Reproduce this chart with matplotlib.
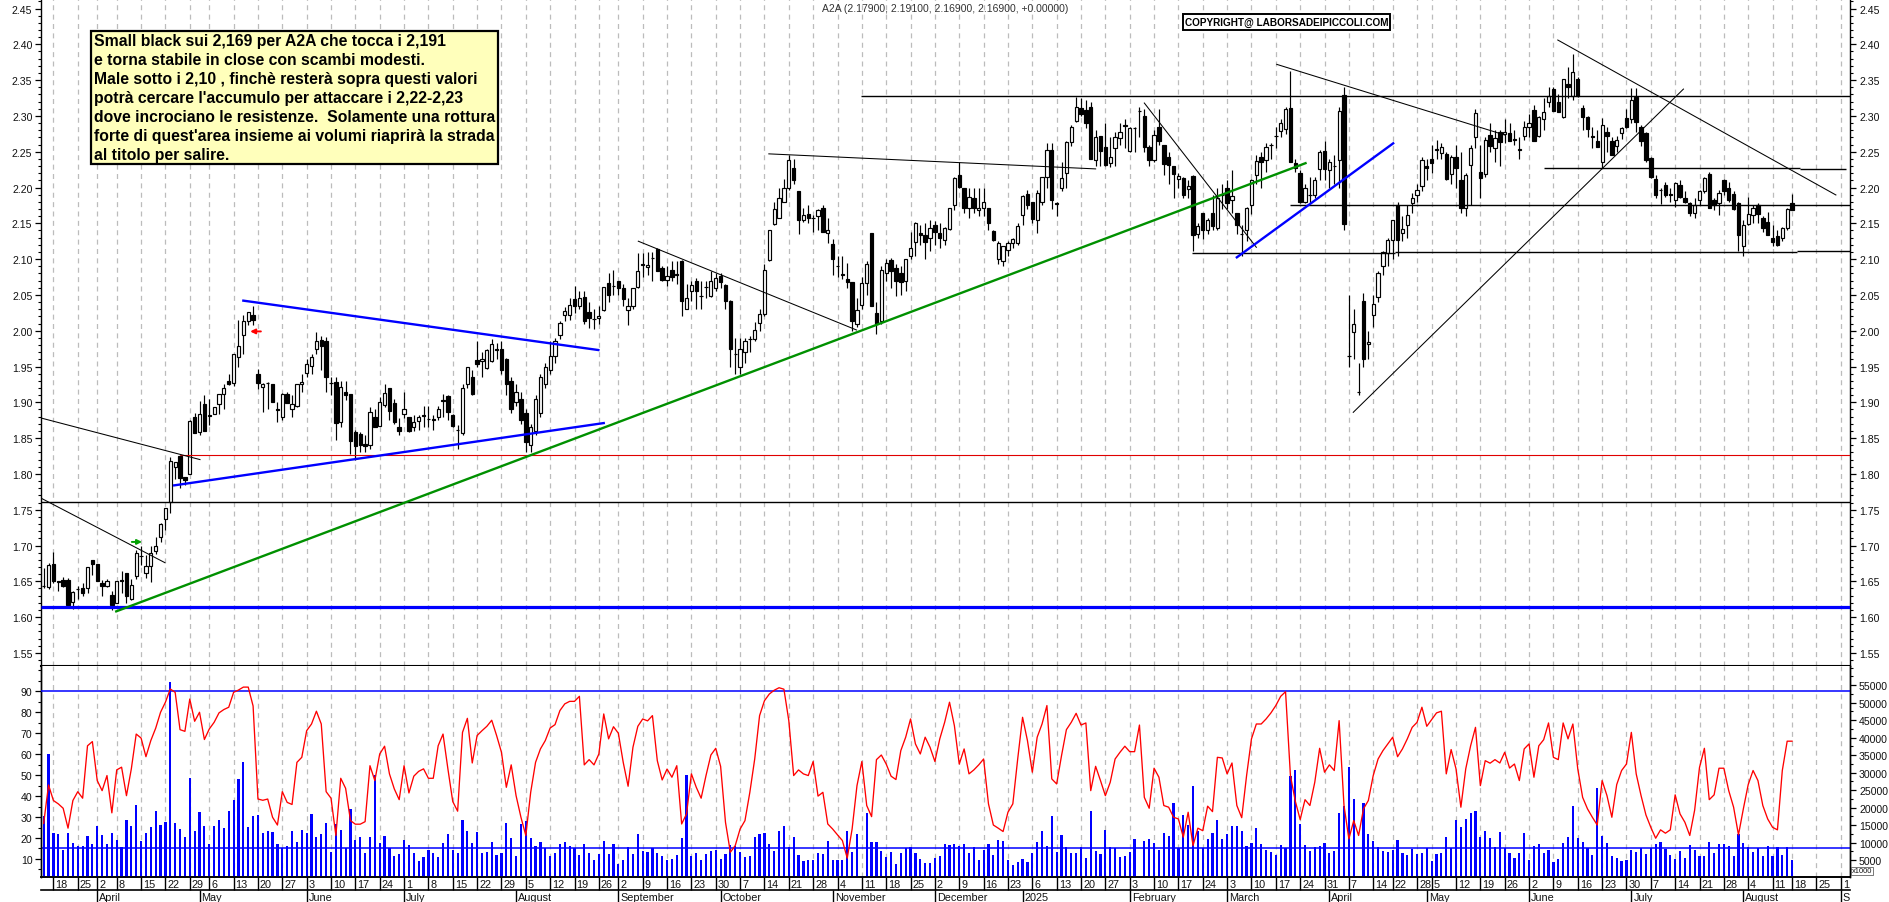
import numpy as np
import matplotlib
matplotlib.use("Agg")
import matplotlib.pyplot as plt
from matplotlib.patches import Rectangle
from matplotlib.ticker import MultipleLocator, FormatStrFormatter, NullFormatter
from matplotlib.transforms import ScaledTranslation

plt.rcParams['font.family'] = ['Liberation Sans', 'DejaVu Sans']

opens = [
 1.644,1.642,1.674,1.651,1.652,1.652,1.621,1.639,1.641,1.641,
 1.680,1.674,1.648,1.643,1.631,1.620,1.652,1.661,1.625,1.657,
 1.686,1.661,1.671,1.692,1.712,1.737,1.761,1.810,1.825,1.795,
 1.800,1.879,1.859,1.898,1.882,1.883,1.897,1.912,1.930,1.927,
 1.963,1.994,2.014,2.022,1.940,1.921,1.927,1.925,1.890,1.880,
 1.911,1.890,1.895,1.925,1.941,1.951,1.974,1.987,1.985,1.927,
 1.929,1.873,1.914,1.912,1.858,1.856,1.842,1.840,1.880,1.867,
 1.896,1.920,1.899,1.866,1.883,1.879,1.866,1.874,1.882,1.877,
 1.876,1.879,1.903,1.909,1.882,1.862,1.857,1.926,1.936,1.959,
 1.957,1.948,1.958,1.974,1.975,1.960,1.930,1.900,1.905,1.885,
 1.840,1.860,1.885,1.925,1.945,1.965,1.994,2.022,2.022,2.044,
 2.035,2.047,2.026,2.017,2.018,2.029,2.066,2.063,2.069,2.060,
 2.029,2.034,2.061,2.093,2.089,2.101,2.114,2.088,2.071,2.085,
 2.079,2.097,2.031,2.056,2.069,2.049,2.061,2.048,2.060,2.077,
 2.064,2.042,1.968,1.950,1.970,1.988,1.989,2.011,2.023,2.099,
 2.149,2.158,2.180,2.200,2.227,2.195,2.155,2.163,2.158,2.160,
 2.172,2.136,2.121,2.091,2.079,2.072,2.068,2.009,2.036,2.066,
 2.137,2.025,2.014,2.080,2.099,2.088,2.081,2.070,2.105,2.124,
 2.137,2.134,2.130,2.147,2.137,2.126,2.142,2.175,2.217,2.199,
 2.172,2.186,2.169,2.172,2.171,2.139,2.100,2.098,2.113,2.123,
 2.123,2.161,2.191,2.180,2.155,2.180,2.215,2.253,2.178,2.200,
 2.220,2.264,2.293,2.311,2.308,2.313,2.239,2.272,2.257,2.234,
 2.255,2.269,2.287,2.251,2.283,2.307,2.300,2.257,2.238,2.284,
 2.259,2.242,2.230,2.212,2.213,2.198,2.216,2.135,2.165,2.140,
 2.164,2.143,2.190,2.200,2.183,2.164,2.135,2.140,2.176,2.218,
 2.242,2.238,2.260,2.272,2.279,2.282,2.311,2.234,2.220,2.180,
 2.190,2.190,2.226,2.251,2.225,2.230,2.239,2.329,1.965,1.998,
 1.915,2.042,1.982,2.022,2.047,2.091,2.109,2.127,2.175,2.136,
 2.147,2.178,2.190,2.202,2.230,2.240,2.253,2.248,2.247,2.219,
 2.242,2.210,2.172,2.231,2.270,2.222,2.219,2.273,2.255,2.277,
 2.275,2.276,2.268,2.254,2.272,2.285,2.308,2.272,2.296,2.319,
 2.338,2.320,2.299,2.345,2.328,2.352,2.311,2.298,2.272,2.265,
 2.235,2.278,2.265,2.258,2.276,2.297,2.296,2.327,2.285,2.276,
 2.241,2.212,2.197,2.204,2.191,2.182,2.204,2.185,2.179,2.164,
 2.182,2.195,2.219,2.182,2.178,2.210,2.199,2.191,2.178,2.118,
 2.149,2.162,2.175,2.158,2.152,2.130,2.132,2.129,2.144,2.179,
]
highs = [
 1.668,1.676,1.691,1.651,1.656,1.655,1.636,1.644,1.647,1.670,
 1.680,1.674,1.652,1.653,1.637,1.651,1.664,1.662,1.653,1.694,
 1.700,1.687,1.700,1.712,1.731,1.753,1.824,1.816,1.827,1.795,
 1.875,1.885,1.902,1.910,1.905,1.893,1.912,1.925,1.940,1.967,
 2.015,2.022,2.026,2.035,1.947,1.927,1.928,1.925,1.900,1.913,
 1.915,1.910,1.926,1.940,1.960,1.968,1.998,1.992,1.991,1.935,
 1.935,1.930,1.930,1.912,1.862,1.858,1.855,1.893,1.890,1.907,
 1.926,1.920,1.905,1.878,1.915,1.879,1.882,1.882,1.895,1.895,
 1.882,1.895,1.912,1.910,1.883,1.868,1.925,1.950,1.945,1.985,
 1.970,1.975,1.988,1.983,1.985,1.962,1.935,1.925,1.915,1.890,
 1.870,1.910,1.940,1.955,1.985,1.990,2.013,2.033,2.045,2.062,
 2.055,2.055,2.040,2.030,2.035,2.061,2.080,2.085,2.068,2.065,
 2.045,2.060,2.108,2.108,2.110,2.110,2.116,2.090,2.090,2.098,
 2.098,2.099,2.065,2.070,2.073,2.070,2.070,2.083,2.080,2.080,
 2.065,2.043,1.990,1.990,1.990,1.992,2.012,2.030,2.093,2.141,
 2.180,2.200,2.212,2.246,2.240,2.195,2.172,2.175,2.162,2.170,
 2.176,2.157,2.128,2.105,2.105,2.095,2.068,2.045,2.075,2.097,
 2.137,2.040,2.090,2.100,2.102,2.093,2.090,2.100,2.138,2.152,
 2.148,2.150,2.155,2.153,2.150,2.145,2.172,2.215,2.235,2.200,
 2.200,2.200,2.200,2.200,2.172,2.140,2.125,2.119,2.125,2.130,
 2.150,2.190,2.197,2.180,2.197,2.215,2.262,2.262,2.180,2.235,
 2.265,2.288,2.327,2.325,2.322,2.320,2.280,2.272,2.290,2.270,
 2.278,2.290,2.295,2.285,2.285,2.312,2.310,2.260,2.280,2.310,
 2.260,2.250,2.230,2.220,2.215,2.210,2.217,2.150,2.165,2.157,
 2.190,2.200,2.205,2.210,2.225,2.165,2.148,2.173,2.212,2.245,
 2.250,2.262,2.262,2.285,2.295,2.312,2.363,2.240,2.224,2.205,
 2.215,2.215,2.252,2.265,2.240,2.245,2.312,2.340,2.050,2.030,
 1.955,2.053,2.000,2.050,2.083,2.112,2.130,2.155,2.180,2.160,
 2.175,2.192,2.205,2.242,2.240,2.260,2.267,2.262,2.250,2.245,
 2.260,2.250,2.220,2.260,2.310,2.260,2.270,2.290,2.280,2.280,
 2.295,2.290,2.280,2.270,2.293,2.303,2.315,2.300,2.325,2.340,
 2.340,2.330,2.352,2.368,2.386,2.355,2.315,2.300,2.285,2.280,
 2.297,2.285,2.270,2.272,2.285,2.310,2.339,2.339,2.287,2.277,
 2.242,2.218,2.200,2.208,2.200,2.208,2.210,2.195,2.180,2.185,
 2.197,2.215,2.221,2.185,2.197,2.212,2.208,2.195,2.180,2.155,
 2.187,2.175,2.178,2.160,2.166,2.147,2.140,2.145,2.172,2.191,
]
lows = [
 1.641,1.639,1.648,1.636,1.642,1.615,1.611,1.625,1.629,1.634,
 1.659,1.650,1.629,1.642,1.610,1.619,1.634,1.620,1.624,1.653,
 1.673,1.655,1.649,1.688,1.705,1.722,1.745,1.793,1.780,1.785,
 1.800,1.857,1.855,1.860,1.868,1.883,1.883,1.890,1.924,1.923,
 1.950,1.968,2.008,2.008,1.918,1.887,1.890,1.901,1.873,1.875,
 1.899,1.880,1.893,1.915,1.935,1.940,1.968,1.945,1.915,1.910,
 1.848,1.865,1.903,1.828,1.820,1.830,1.830,1.835,1.865,1.867,
 1.893,1.875,1.870,1.855,1.878,1.858,1.860,1.862,1.865,1.865,
 1.862,1.875,1.880,1.875,1.865,1.835,1.855,1.920,1.910,1.950,
 1.936,1.946,1.956,1.960,1.940,1.910,1.885,1.895,1.870,1.830,
 1.830,1.855,1.880,1.920,1.940,1.955,1.988,2.014,2.015,2.025,
 2.030,2.010,2.004,2.003,2.010,2.028,2.040,2.050,2.050,2.035,
 2.008,2.030,2.060,2.075,2.078,2.070,2.083,2.070,2.063,2.070,
 2.065,2.020,2.030,2.042,2.030,2.030,2.045,2.047,2.055,2.060,
 2.030,1.950,1.940,1.940,1.955,1.970,1.985,2.000,2.020,2.097,
 2.148,2.157,2.180,2.196,2.205,2.135,2.152,2.150,2.138,2.140,
 2.138,2.123,2.078,2.075,2.072,2.060,2.000,2.005,2.030,2.050,
 2.034,1.995,2.010,2.070,2.060,2.048,2.050,2.055,2.100,2.105,
 2.120,2.100,2.112,2.120,2.115,2.120,2.140,2.169,2.200,2.165,
 2.157,2.165,2.160,2.160,2.140,2.125,2.093,2.091,2.105,2.115,
 2.120,2.147,2.170,2.150,2.137,2.175,2.200,2.170,2.160,2.195,
 2.200,2.258,2.292,2.300,2.283,2.240,2.230,2.230,2.230,2.228,
 2.230,2.260,2.255,2.250,2.250,2.270,2.250,2.230,2.235,2.260,
 2.218,2.205,2.185,2.200,2.185,2.185,2.112,2.130,2.128,2.135,
 2.140,2.140,2.170,2.170,2.165,2.135,2.105,2.125,2.163,2.205,
 2.200,2.222,2.240,2.255,2.270,2.275,2.235,2.222,2.178,2.178,
 2.178,2.185,2.210,2.210,2.200,2.205,2.200,2.140,1.950,1.960,
 1.910,1.950,1.960,2.005,2.040,2.078,2.090,2.100,2.105,2.125,
 2.130,2.165,2.180,2.195,2.210,2.220,2.240,2.240,2.210,2.205,
 2.200,2.165,2.160,2.175,2.255,2.185,2.215,2.250,2.235,2.230,
 2.262,2.265,2.260,2.240,2.267,2.270,2.265,2.270,2.280,2.312,
 2.307,2.305,2.297,2.325,2.322,2.327,2.280,2.270,2.255,2.257,
 2.227,2.250,2.245,2.250,2.268,2.283,2.290,2.278,2.258,2.236,
 2.213,2.185,2.177,2.187,2.180,2.173,2.186,2.178,2.160,2.157,
 2.175,2.192,2.172,2.168,2.162,2.190,2.180,2.168,2.112,2.104,
 2.147,2.150,2.150,2.138,2.133,2.118,2.118,2.125,2.141,2.169,
]
closes = [
 1.643,1.673,1.651,1.649,1.643,1.617,1.635,1.639,1.633,1.670,
 1.674,1.650,1.643,1.650,1.617,1.650,1.651,1.629,1.645,1.689,
 1.686,1.672,1.690,1.700,1.730,1.753,1.818,1.816,1.794,1.791,
 1.874,1.857,1.883,1.860,1.881,1.893,1.912,1.920,1.926,1.967,
 1.978,2.013,2.026,2.015,1.927,1.926,1.927,1.901,1.889,1.911,
 1.899,1.897,1.925,1.929,1.954,1.963,1.985,1.979,1.936,1.927,
 1.871,1.922,1.910,1.846,1.839,1.840,1.839,1.887,1.866,1.901,
 1.913,1.888,1.873,1.860,1.890,1.860,1.873,1.879,1.881,1.876,
 1.875,1.890,1.902,1.887,1.867,1.861,1.920,1.949,1.912,1.953,
 1.961,1.973,1.982,1.973,1.945,1.925,1.890,1.915,1.875,1.845,
 1.865,1.905,1.935,1.950,1.965,1.985,2.011,2.027,2.036,2.035,
 2.046,2.014,2.018,2.017,2.021,2.061,2.050,2.062,2.060,2.044,
 2.034,2.060,2.084,2.092,2.092,2.101,2.083,2.071,2.077,2.075,
 2.078,2.042,2.046,2.064,2.056,2.048,2.061,2.070,2.074,2.068,
 2.042,1.975,1.967,1.975,1.985,1.988,2.001,2.023,2.085,2.141,
 2.170,2.186,2.200,2.238,2.211,2.154,2.162,2.157,2.158,2.168,
 2.138,2.141,2.100,2.090,2.078,2.068,2.014,2.029,2.066,2.093,
 2.034,2.009,2.085,2.094,2.084,2.070,2.068,2.100,2.116,2.150,
 2.133,2.124,2.144,2.138,2.130,2.144,2.171,2.213,2.201,2.172,
 2.187,2.171,2.172,2.180,2.151,2.126,2.123,2.119,2.123,2.128,
 2.146,2.188,2.175,2.156,2.193,2.215,2.253,2.182,2.177,2.213,
 2.263,2.285,2.312,2.302,2.290,2.240,2.271,2.251,2.232,2.243,
 2.270,2.277,2.286,2.283,2.283,2.307,2.256,2.239,2.274,2.265,
 2.233,2.231,2.219,2.216,2.190,2.202,2.133,2.146,2.140,2.155,
 2.146,2.186,2.190,2.179,2.188,2.147,2.135,2.171,2.211,2.237,
 2.236,2.257,2.260,2.272,2.290,2.310,2.235,2.227,2.180,2.200,
 2.189,2.211,2.250,2.226,2.235,2.230,2.307,2.149,1.965,2.009,
 1.915,1.960,1.984,2.037,2.080,2.110,2.127,2.154,2.126,2.142,
 2.162,2.186,2.197,2.239,2.227,2.234,2.254,2.257,2.212,2.243,
 2.227,2.172,2.218,2.255,2.304,2.213,2.266,2.258,2.269,2.264,
 2.278,2.265,2.267,2.253,2.284,2.290,2.265,2.298,2.306,2.328,
 2.307,2.306,2.351,2.341,2.361,2.328,2.299,2.282,2.270,2.257,
 2.288,2.272,2.245,2.267,2.283,2.285,2.322,2.291,2.265,2.239,
 2.215,2.190,2.196,2.189,2.190,2.206,2.187,2.180,2.164,2.175,
 2.195,2.213,2.172,2.176,2.193,2.195,2.182,2.170,2.133,2.147,
 2.163,2.172,2.163,2.144,2.133,2.124,2.120,2.143,2.170,2.169,
]
rsi = [
 27,45.3,37.9,36.3,34.2,24.7,37.9,42.1,39,64,66,47.4,42.6,49.8,32,52.5,53.8,40.2,53,69.6,
 67.7,58.8,66.5,72.4,80,84.8,91.1,89.5,71.7,70.9,86.3,75.7,80,67,72,75.2,79.7,81.3,82.4,89.5,
 90.6,92,92,83,38.6,38,38.6,29.9,26.2,42.1,37,36,56.1,58.5,71.2,74.4,80.5,74.4,42.1,39,
 21.2,48.5,43.7,28.3,26.6,26.6,27.8,54.5,47.4,60.1,63.8,50.6,43.4,38.3,54.5,41.5,49.5,51.8,53,48.5,
 48.5,64,69.6,53,37.4,32.8,70.4,77.1,55.8,68.9,71.2,73.3,76.2,68.9,60.9,44.2,54.9,40.2,29.9,21.2,
 41.8,56.1,62.5,66.5,72.5,74.1,80.8,84,85.2,85.2,87.6,54.9,57.4,54.9,60.1,79.2,67.3,73.1,70,56.1,
 44.7,63.3,73.3,76.8,75.9,78.4,56.9,47.7,52.9,49,54.5,26.7,31.5,50.6,44.2,39,49.8,59.6,62.8,54.2,
 27.5,13.2,16.4,24.3,28.3,41.8,57.7,78.4,85.5,88.7,90.5,91.7,91,76,49.8,52.5,50.6,49.8,56.5,40,
 41.8,26.7,24.3,21.5,18.8,10.4,24.3,45,56.5,35.5,30.2,57.4,59.6,55.3,49.5,47.9,61.7,68.1,76.8,64.9,
 60.1,68.1,63.3,56.5,67.3,75.2,84.8,73.6,55.3,62.5,50.6,52.5,54.9,57.7,36.3,26.2,24.7,23.1,32.3,36.3,
 57.7,77.6,66.5,51.4,68.1,74.4,83.2,48.2,45.8,59.3,71.7,75.2,79.5,73.9,74.9,42.6,54.2,47.4,40.2,46.6,
 57.7,60.9,63.8,61.2,61.2,73.9,39.4,34.2,53.3,49,35.5,34.7,29.9,29.1,20.4,32.3,16.4,24.7,23.5,35.2,
 32.6,58.5,58.2,50.6,55.8,35.5,29.7,49.8,67.3,74.4,74.4,76.8,79.7,83.2,87.6,89.8,49.8,37.6,28.8,38.3,
 35.5,46.6,62.8,51.4,54.9,52.2,76,35.5,19.6,28.3,21.2,33.9,37.9,49.8,57.7,61.7,64.9,68.1,58.8,62.5,
 67.3,72.8,75.2,82.4,73.3,76.5,79.7,80.5,50.6,62.2,53,34.7,53,64,72.8,45,56.9,55.7,57.4,55.8,
 60.9,53.4,55.3,47.4,62.5,64.9,49,64,66.9,74.9,58.5,57.4,74.9,67.3,74.4,53,39.4,33.9,29.9,26.2,
 47.4,40.2,29.9,45.5,52.2,55.3,70.4,50.6,40.2,31,25.1,19.9,23.9,22.3,23.9,40.6,31.5,27.5,21.2,33.3,
 53.7,62.8,38.3,40.6,53.3,53.3,42.6,34.7,21.5,33.9,45.5,52.2,47.4,35.5,29.1,25.1,23.9,52.2,66.2,66.2,
]
volume_k = [
 17.6,35.2,12.7,12.5,7.9,12.7,10,8.9,8.9,11.8,
 9.7,14.7,12.1,9.5,12.6,10.7,8.6,16.4,14.7,20.7,
 10.5,12.6,14.3,19,14.9,16,55.9,15.5,13.8,11.5,
 28.4,13.3,18.6,14.7,9.7,14.6,16.3,14.1,18.9,22.1,
 28.1,33,14.5,17.5,17.8,12.8,13.2,12.9,9.7,8.4,
 9.1,13.2,10.1,13.5,12.6,18.1,11.6,12.3,15.7,7.4,
 15.2,13.7,8.4,19.7,10.8,11.5,7,11.5,29.2,9.9,
 11.8,8.4,6.1,6.7,10.6,9.2,7,4.7,6,7.8,
 7.1,6,9.9,12.4,7.8,7.1,16.4,13.4,9.8,13,
 7.1,7.3,10.1,6.5,7.1,15.6,11.2,6.2,15.2,16.1,
 11.2,9,10.1,8.3,6.2,7.1,9.5,10.1,9,8.3,
 6.4,9.5,7.1,5,6.7,10.4,6.6,9.5,4,5,
 8.6,6.7,12.3,7.6,7.4,
 8.3,6.9,6.1,5,5.3,6.4,11.4,29.4,6.2,7.1,
 5,6.7,7.5,7.8,5.2,6.7,9.3,8.9,7.4,5.9,
 6.1,11.6,12.3,12.6,9.5,7.5,13.2,14.7,8.7,11.5,
 6.4,4.6,5.1,4.9,7.1,6.6,10.4,4.9,5,5,
 13.2,7.4,12.4,0.4,18.4,10.1,10.1,7.7,6,7.4,
 4,7.1,8.5,8.7,7,5.2,4.1,4.1,5.7,6.1,
 9.5,9.2,9.7,9,9.5,7.1,8.6,5,7.8,9.5,
 6.4,10.7,10.4,4.9,3.7,4.5,5.2,4.3,6.9,10.1,
 13.4,9,17.6,7.3,12.1,8.7,7,7.1,8.6,5.7,
 18.9,7.5,6.7,13.5,8.6,8.4,5.9,6.1,7.3,11.1,
 0.4,10.4,10.9,10,7.9,12.6,11.8,21.4,8.4,17.8,
 15,26.1,13.3,8.4,10.9,12.6,16.4,11,12.5,14.6,
 14.7,13.2,9,9.8,14.1,9.5,8,
 7.4,6.4,9.4,8.4,28.9,30.7,15.2,9.4,7.5,8.7,
 9,9.9,7.1,7.6,18.4,20.4,31.7,22.4,0.4,21.2,
 12.3,10.4,8.7,7.5,7.4,7.8,10.7,7.1,6.4,8.1,
 6.6,7,8.3,4.8,6.7,7.1,11.5,8.3,16.4,14.4,
 16.7,18.4,19,11.7,13.4,11.2,8.6,12.9,8.3,7,
 5.5,7,12.7,5,9,9.5,6.9,8,4.5,5.4,
 9.9,11.5,20.4,11.2,10.1,8.3,6.4,25.5,11.8,9.8,
 6.1,5.6,4.7,5,7.9,7.4,8.3,6.7,8.4,9.7,
 10.1,8.1,6.4,5.4,7.5,5.7,9.4,7.8,6.2,6.1,
 10.1,7,9.7,9.5,9,6.2,12.4,10,8.7,7.4,
 8.3,6.2,9,6.1,8.6,6.4,8.6,5,
]
week_pos = [3,8,12,16,21,26,31,35,40,45,50,55,60,65,70,75,80,85,90,95,100,105,110,115,119,124,129,134,139,
            144,149,154,159,164,169,174,179,184,189,194,199,204,209,214,219,224,229,234,239,244,249,254,259,264,
            269,274,278,283,286,291,296,301,306,311,316,321,326,331,336,341,346,351,356,360,365,370]
week_labels = ['18','25','2','8','15','22','29','6','13','20','27','3','10','17','24','1','8','15','22','29','5','12','19','26',
               '2','9','16','23','30','7','14','21','28','4','11','18','25','2','9','16','23','6','13','20','27','3','10','17','24',
               '3','10','17','24','31','7','14','22','28','5','12','19','26','2','9','16','23','30','7','14','21','28','4','11','18','25','1']
month_pos = [12,33,55,75,98,119,140,163,184,202,224,244,265,285,306,327,350,370]
month_labels = ['April','May','June','July','August','September','October','November','December','2025',
                'February','March','April','May','June','July','August','S']
price_ticks = [1.55,1.60,1.65,1.70,1.75,1.80,1.85,1.90,1.95,2.00,2.05,2.10,2.15,2.20,2.25,2.30,2.35,2.40,2.45]
rsi_ticks = [10,20,30,40,50,60,70,80,90]
volume_ticks = [5000,10000,15000,20000,25000,30000,35000,40000,45000,50000,55000]

levels = [(0.5,372,1.7603,'black',1.0),(0.5,372,1.614,'#0000ff',2.3),(29,372,1.827,'#e00000',0.8),
          (168.8,372,2.3274,'black',1.0),(257,372,2.1756,'black',1.0),(236.8,278.5,2.108,'black',1.0),
          (278.5,361,2.1095,'black',1.0),(361,372,2.111,'black',1.0),(309.1,361.6,2.2268,'black',1.0),(361.6,371,2.2254,'black',1.0)]
trendlines = [(0.5,1.878,33.1,1.820,'black',0.75),(0.5,1.766,25.9,1.676,'black',0.75),
              (42,2.042,114.9,1.973,'#0000ff',1.7),(27.8,1.784,116,1.871,'#0000ff',1.7),
              (15.9,1.608,260.1,2.234,'#009000',1.7),(123.1,2.125,167.9,2.001,'black',0.75),
              (149.9,2.247,217,2.226,'black',0.75),(227,2.318,250,2.1165,'black',0.75),
              (254.2,2.372,301,2.2734,'black',0.75),(246,2.1025,278.1,2.2617,'#0000ff',1.7),
              (269.9,1.886,337.7,2.3375,'black',0.75),(311.9,2.406,369,2.1896,'black',0.75)]
note_lines = ["Small black sui 2,169 per A2A che tocca i 2,191",
              "e torna stabile in close con scambi modesti.",
              "Male sotto i 2,10 , finchè resterà sopra questi valori",
              "potrà cercare l'accumulo per attaccare i 2,22-2,23",
              "dove incrociano le resistenze.  Solamente una rottura",
              "forte di quest'area insieme ai volumi riaprirà la strada",
              "al titolo per salire."]

W, H = 1890, 903
fig = plt.figure(figsize=(W/100, H/100), dpi=100, facecolor='white')
L, R, DIV, BOT = 41.5, 1850, 667, 878
ax = fig.add_axes([L/W, 1-DIV/H, (R-L)/W, DIV/H])
low = fig.add_axes([L/W, 1-BOT/H, (R-L)/W, (BOT-DIV)/H], sharex=ax)
rs = low.twinx()

n = len(closes)
x = np.arange(1, n+1)
o, h, l, c = map(np.array, (opens, highs, lows, closes))

grid_kw = dict(color='#bcbcbc', ls=(0, (4, 3.5)), lw=0.9)
ax.set_xlim(0.554, 371.9)
ax.set_ylim(1.5317, 2.4633)
ax.set_xticks(week_pos)
for a in (ax, low):
    a.grid(axis='x', **grid_kw)
    a.set_axisbelow(True)

# candles
ax.vlines(x, l, h, color='black', lw=0.85, zorder=2)
down = c <= o
ax.bar(x[~down], (c-o)[~down], bottom=o[~down], width=0.66, facecolor='white', edgecolor='black', lw=0.85, zorder=3)
ax.bar(x[down], (c-o)[down], bottom=o[down], width=0.70, facecolor='black', edgecolor='black', lw=0.85, zorder=3)

for x0, x1, y, col, lw in levels:
    ax.plot([x0, x1], [y, y], color=col, lw=lw, zorder=4, solid_capstyle='butt')
for x0, y0, x1, y1, col, lw in trendlines:
    ax.plot([x0, x1], [y0, y1], color=col, lw=lw, zorder=4)
ax.annotate('', xy=(43.4, 1.999), xytext=(45.6, 1.999),
            arrowprops=dict(arrowstyle='-|>', color='#ff0000', lw=1.4, mutation_scale=7, shrinkA=0, shrinkB=0), zorder=5)
ax.annotate('', xy=(21.2, 1.705), xytext=(19.1, 1.705),
            arrowprops=dict(arrowstyle='-|>', color='#00a000', lw=1.4, mutation_scale=7, shrinkA=0, shrinkB=0), zorder=5)

# price axes
ax.yaxis.set_major_locator(plt.FixedLocator(price_ticks))
ax.yaxis.set_major_formatter(FormatStrFormatter('%.2f'))
ax.yaxis.set_minor_locator(MultipleLocator(0.01))
ax.tick_params(axis='y', which='major', left=True, right=True, labelleft=True, labelright=True,
               length=4.5, width=0.9, labelsize=7.6, pad=2, labelcolor='#111111')
ax.tick_params(axis='y', which='minor', left=True, right=True, length=2.4, width=0.8)
ax.tick_params(axis='x', bottom=False, labelbottom=False)
for s in ('top',):
    ax.spines[s].set_visible(False)
for s in ('left', 'right'):
    ax.spines[s].set_linewidth(1.0)
ax.spines['bottom'].set_linewidth(1.5)

# volume (right scale)
low.bar(x, np.array(volume_k)*1000, width=0.45, color='#0000ff', zorder=3)
low.plot([0.55, 372], [8340, 8340], color='#0000ff', lw=1.1, zorder=4)
low.set_ylim(143, 60430)
low.yaxis.tick_right()
low.yaxis.set_major_locator(plt.FixedLocator(volume_ticks))
low.yaxis.set_major_formatter(FormatStrFormatter('%d'))
low.yaxis.set_minor_locator(MultipleLocator(2500))
low.tick_params(axis='y', which='major', length=4.5, width=0.9, labelsize=7.6, pad=2, labelcolor='#111111')
low.tick_params(axis='y', which='minor', length=2.4, width=0.8)

# RSI (left scale)
rs.plot(x, rsi, color='#ff0000', lw=0.95, zorder=5)
rs.plot([0.55, 372], [90, 90], color='#0000ff', lw=1.1, zorder=4)
rs.set_ylim(1.4, 102.07)
rs.yaxis.tick_left()
rs.yaxis.set_major_locator(plt.FixedLocator(rsi_ticks))
rs.yaxis.set_major_formatter(FormatStrFormatter('%d'))
rs.yaxis.set_minor_locator(MultipleLocator(5))
rs.tick_params(axis='y', which='major', length=4.5, width=0.9, labelsize=7.6, pad=2, labelcolor='#111111')
rs.tick_params(axis='y', which='minor', length=2.4, width=0.8)
for a in (low, rs):
    a.spines['top'].set_visible(False)
    a.spines['left'].set_linewidth(1.0)
    a.spines['right'].set_linewidth(1.0)
    a.spines['bottom'].set_linewidth(1.2)

# date rows
dx = ScaledTranslation(2/100, 0, fig.dpi_scale_trans)
low.set_xticks(week_pos, week_labels)
low.tick_params(axis='x', length=9.4, width=1.0, pad=-8.0, labelsize=7.8, labelcolor='#111111')
for t in low.get_xticklabels():
    t.set_ha('left')
    t.set_transform(t.get_transform() + dx)
ax.tick_params(axis='x', bottom=False, labelbottom=False)
sec = low.secondary_xaxis(-13/(BOT-DIV))
sec.set_xticks(month_pos, month_labels)
sec.tick_params(axis='x', length=8.6, width=1.0, pad=-7.4, labelsize=7.8, labelcolor='#111111')
sec.spines['bottom'].set_linewidth(1.2)
for t in sec.get_xticklabels():
    t.set_ha('left')
    t.set_transform(t.get_transform() + dx)

def px(xp, yp):
    return xp/W, 1-yp/H

fig.text(*px(945, 9), 'A2A (2.17900, 2.19100, 2.16900, 2.16900, +0.00000)', ha='center', va='center',
         fontsize=7.5, color='#333333')
fig.text(*px(1862, 872), 'x1000', ha='center', va='center', fontsize=5.4, color='#111111',
         bbox=dict(boxstyle='square,pad=0.12', fc='white', ec='#444444', lw=0.5), zorder=6)

fig.add_artist(Rectangle(px(1183, 31), 207/W, 16/H, transform=fig.transFigure, fc='white', ec='black', lw=1.4, zorder=6))
fig.text(*px(1286.5, 23), 'COPYRIGHT@ LABORSADEIPICCOLI.COM', ha='center', va='center', fontsize=7.2,
         fontweight='bold', color='black', zorder=7)

fig.add_artist(Rectangle(px(91, 165), 407/W, 133/H, transform=fig.transFigure, fc='#FFFFBB', ec='black', lw=1.6, zorder=6))
for i, line in enumerate(note_lines):
    fig.text(*px(94, 41.5+i*19.0), line, ha='left', va='center', fontsize=11.3, fontweight='bold',
             color='black', zorder=7)

fig.savefig('out.png', dpi=100)
